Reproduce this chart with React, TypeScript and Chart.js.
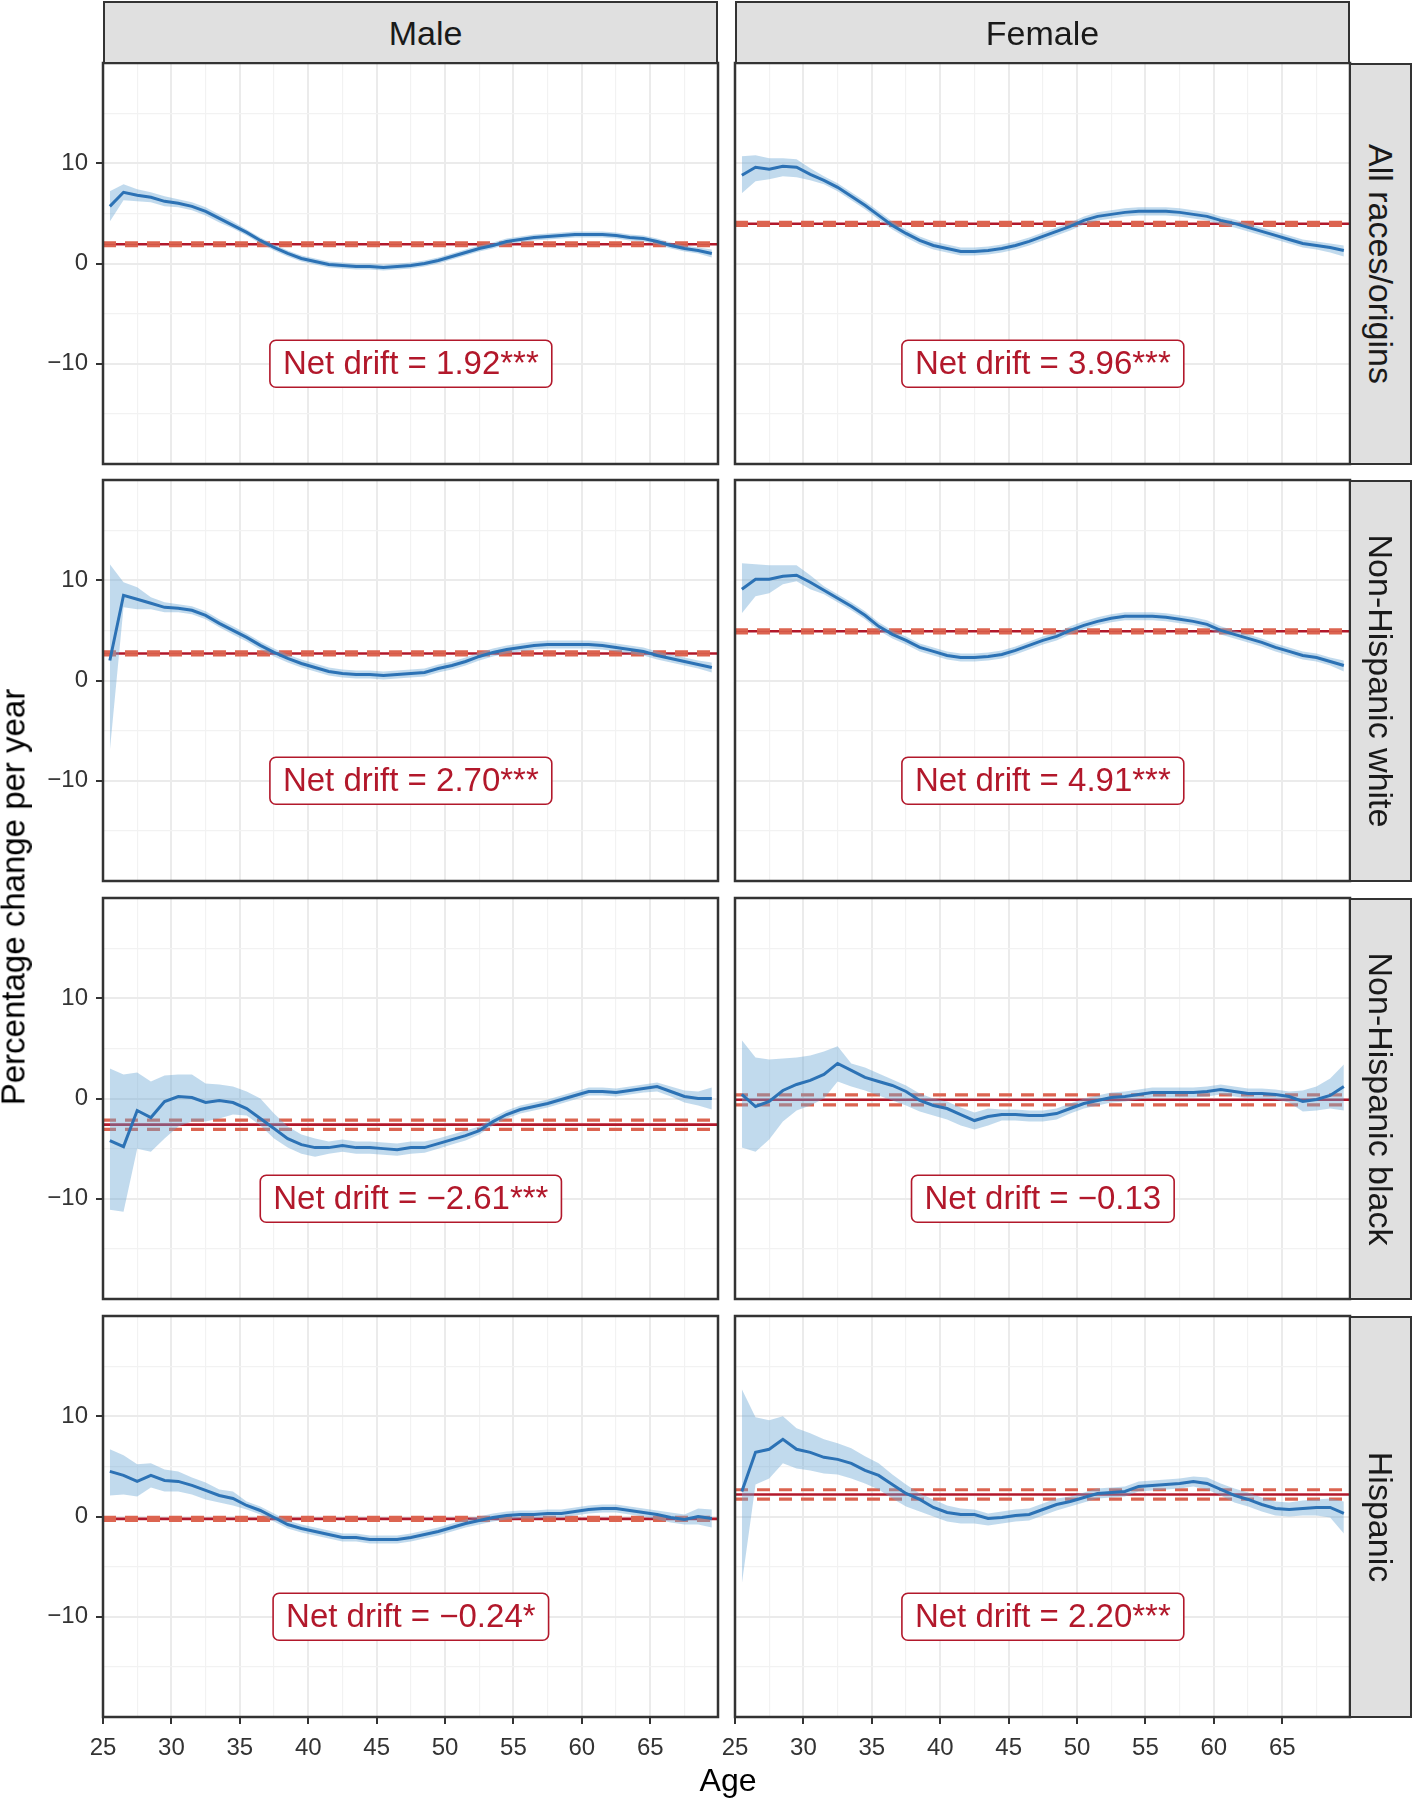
import React, { useEffect, useRef } from 'react';
import { Chart, registerables } from 'chart.js';

Chart.register(...registerables);

// ---------------- data ----------------
const AGES = [25.5, 26.5, 27.5, 28.5, 29.5, 30.5, 31.5, 32.5, 33.5, 34.5, 35.5, 36.5, 37.5, 38.5, 39.5, 40.5, 41.5, 42.5, 43.5, 44.5, 45.5, 46.5, 47.5, 48.5, 49.5, 50.5, 51.5, 52.5, 53.5, 54.5, 55.5, 56.5, 57.5, 58.5, 59.5, 60.5, 61.5, 62.5, 63.5, 64.5, 65.5, 66.5, 67.5, 68.5, 69.5];

const SEXES = ['Male', 'Female'];
const GROUPS = ['All races/origins', 'Non-Hispanic white', 'Non-Hispanic black', 'Hispanic'];

const MALE_ALL = [5.7, 7.1, 6.8, 6.6, 6.2, 6.0, 5.7, 5.2, 4.5, 3.8, 3.1, 2.3, 1.6, 1.0, 0.5, 0.2, -0.1, -0.2, -0.3, -0.3, -0.4, -0.3, -0.2, 0.0, 0.3, 0.7, 1.1, 1.5, 1.8, 2.2, 2.4, 2.6, 2.7, 2.8, 2.9, 2.9, 2.9, 2.8, 2.6, 2.5, 2.2, 1.8, 1.5, 1.3, 1.0];
const MALE_ALL_LO = [4.2, 6.3, 6.2, 6.1, 5.7, 5.6, 5.3, 4.8, 4.1, 3.5, 2.8, 2.0, 1.3, 0.7, 0.2, -0.1, -0.4, -0.5, -0.6, -0.6, -0.7, -0.6, -0.5, -0.3, 0.0, 0.4, 0.8, 1.2, 1.5, 1.9, 2.1, 2.3, 2.4, 2.5, 2.6, 2.6, 2.6, 2.5, 2.3, 2.2, 1.9, 1.5, 1.2, 1.0, 0.6];
const MALE_ALL_HI = [7.2, 7.9, 7.4, 7.1, 6.7, 6.4, 6.1, 5.6, 4.9, 4.2, 3.4, 2.6, 1.9, 1.3, 0.8, 0.5, 0.2, 0.1, 0.0, 0.0, -0.1, 0.0, 0.1, 0.3, 0.6, 1.0, 1.4, 1.8, 2.1, 2.5, 2.7, 2.9, 3.0, 3.1, 3.2, 3.2, 3.2, 3.1, 2.9, 2.8, 2.5, 2.1, 1.8, 1.6, 1.4];

const FEMALE_ALL = [8.8, 9.6, 9.4, 9.7, 9.6, 8.9, 8.3, 7.6, 6.7, 5.8, 4.8, 3.8, 3.0, 2.3, 1.8, 1.5, 1.2, 1.2, 1.3, 1.5, 1.8, 2.2, 2.7, 3.2, 3.7, 4.3, 4.7, 4.9, 5.1, 5.2, 5.2, 5.2, 5.1, 4.9, 4.7, 4.3, 4.0, 3.6, 3.2, 2.8, 2.4, 2.0, 1.8, 1.6, 1.3];
const FEMALE_ALL_LO = [7.0, 8.2, 8.4, 8.7, 8.6, 8.3, 7.9, 7.2, 6.3, 5.4, 4.4, 3.4, 2.6, 1.9, 1.4, 1.1, 0.8, 0.8, 0.9, 1.1, 1.4, 1.8, 2.3, 2.8, 3.3, 3.9, 4.3, 4.5, 4.7, 4.8, 4.8, 4.8, 4.7, 4.5, 4.3, 3.9, 3.6, 3.2, 2.8, 2.4, 2.0, 1.6, 1.4, 1.1, 0.7];
const FEMALE_ALL_HI = [10.7, 10.8, 10.5, 10.5, 10.4, 9.5, 8.7, 8.0, 7.1, 6.2, 5.2, 4.2, 3.4, 2.7, 2.2, 1.9, 1.6, 1.6, 1.7, 1.9, 2.2, 2.6, 3.1, 3.6, 4.1, 4.7, 5.1, 5.3, 5.5, 5.6, 5.6, 5.6, 5.5, 5.3, 5.1, 4.7, 4.4, 4.0, 3.6, 3.2, 2.8, 2.4, 2.2, 2.0, 1.8];

const MALE_WHITE = [2.0, 8.5, 8.1, 7.7, 7.3, 7.2, 7.0, 6.5, 5.7, 5.0, 4.3, 3.5, 2.8, 2.2, 1.7, 1.3, 0.9, 0.7, 0.6, 0.6, 0.5, 0.6, 0.7, 0.8, 1.2, 1.5, 1.9, 2.4, 2.8, 3.1, 3.3, 3.5, 3.6, 3.6, 3.6, 3.6, 3.5, 3.3, 3.1, 2.9, 2.5, 2.2, 1.9, 1.6, 1.3];
const MALE_WHITE_LO = [-7.0, 7.3, 7.1, 7.1, 6.8, 6.8, 6.6, 6.1, 5.3, 4.6, 3.9, 3.1, 2.4, 1.8, 1.3, 0.9, 0.5, 0.3, 0.2, 0.2, 0.1, 0.2, 0.3, 0.4, 0.8, 1.1, 1.5, 2.0, 2.4, 2.7, 2.9, 3.1, 3.2, 3.2, 3.2, 3.2, 3.1, 2.9, 2.7, 2.5, 2.1, 1.8, 1.5, 1.2, 0.8];
const MALE_WHITE_HI = [11.6, 9.8, 9.3, 8.3, 7.8, 7.6, 7.4, 6.9, 6.1, 5.4, 4.7, 3.9, 3.2, 2.6, 2.1, 1.7, 1.3, 1.1, 1.0, 1.0, 0.9, 1.0, 1.1, 1.2, 1.6, 1.9, 2.3, 2.8, 3.2, 3.5, 3.7, 3.9, 4.0, 4.0, 4.0, 4.0, 3.9, 3.7, 3.5, 3.3, 2.9, 2.6, 2.3, 2.0, 1.8];

const FEMALE_WHITE = [9.1, 10.1, 10.1, 10.4, 10.5, 9.8, 9.0, 8.2, 7.4, 6.5, 5.4, 4.6, 4.0, 3.3, 2.9, 2.5, 2.3, 2.3, 2.4, 2.6, 3.0, 3.5, 4.0, 4.4, 5.0, 5.5, 5.9, 6.2, 6.4, 6.4, 6.4, 6.3, 6.1, 5.9, 5.6, 5.0, 4.6, 4.2, 3.8, 3.3, 2.9, 2.5, 2.3, 1.9, 1.5];
const FEMALE_WHITE_LO = [6.7, 8.4, 8.7, 9.6, 9.9, 9.1, 8.6, 7.8, 7.0, 6.1, 5.0, 4.2, 3.6, 2.9, 2.5, 2.1, 1.9, 1.9, 2.0, 2.2, 2.6, 3.1, 3.6, 4.0, 4.6, 5.1, 5.5, 5.8, 6.0, 6.0, 6.0, 5.9, 5.7, 5.5, 5.2, 4.6, 4.2, 3.8, 3.4, 2.9, 2.5, 2.1, 1.9, 1.5, 0.9];
const FEMALE_WHITE_HI = [11.7, 11.6, 11.5, 11.5, 11.5, 10.5, 9.4, 8.6, 7.8, 6.9, 5.8, 5.0, 4.4, 3.7, 3.3, 2.9, 2.7, 2.7, 2.8, 3.0, 3.4, 3.9, 4.4, 4.8, 5.4, 5.9, 6.3, 6.6, 6.8, 6.8, 6.8, 6.7, 6.5, 6.3, 6.0, 5.4, 5.0, 4.6, 4.2, 3.7, 3.3, 2.9, 2.7, 2.3, 2.0];

const MALE_BLACK = [-4.2, -4.8, -1.2, -1.9, -0.3, 0.2, 0.1, -0.4, -0.2, -0.4, -1.0, -2.0, -3.0, -4.0, -4.6, -4.9, -4.9, -4.7, -4.9, -4.9, -5.0, -5.1, -4.9, -4.9, -4.5, -4.1, -3.7, -3.2, -2.3, -1.6, -1.1, -0.8, -0.5, -0.1, 0.3, 0.7, 0.7, 0.6, 0.8, 1.0, 1.2, 0.7, 0.2, 0.0, 0.0];
const MALE_BLACK_LO = [-11.1, -11.3, -5.0, -5.3, -4.0, -2.8, -2.3, -2.3, -2.0, -1.6, -1.7, -2.7, -4.0, -4.9, -5.5, -5.8, -5.5, -5.3, -5.5, -5.5, -5.6, -5.7, -5.5, -5.4, -5.0, -4.6, -4.2, -3.6, -2.7, -2.0, -1.5, -1.2, -0.9, -0.5, -0.1, 0.3, 0.3, 0.2, 0.4, 0.6, 0.7, 0.2, -0.4, -0.7, -1.1];
const MALE_BLACK_HI = [3.0, 2.4, 2.6, 1.7, 2.3, 2.4, 2.4, 1.5, 1.4, 1.2, 0.7, 0.0, -1.5, -2.8, -3.6, -4.0, -4.3, -4.1, -4.3, -4.3, -4.4, -4.5, -4.3, -4.3, -4.0, -3.6, -3.2, -2.8, -1.9, -1.2, -0.7, -0.4, -0.1, 0.3, 0.7, 1.1, 1.1, 1.0, 1.2, 1.4, 1.6, 1.2, 0.8, 0.7, 1.1];

const FEMALE_BLACK = [0.4, -0.8, -0.3, 0.8, 1.4, 1.8, 2.4, 3.5, 2.8, 2.1, 1.7, 1.3, 0.7, -0.2, -0.7, -1.0, -1.6, -2.2, -1.8, -1.6, -1.6, -1.7, -1.7, -1.5, -1.0, -0.5, -0.2, 0.1, 0.2, 0.4, 0.6, 0.6, 0.6, 0.6, 0.7, 0.9, 0.7, 0.5, 0.5, 0.4, 0.2, -0.3, -0.1, 0.3, 1.2];
const FEMALE_BLACK_LO = [-4.9, -5.3, -4.1, -2.3, -1.2, -0.7, 0.0, 1.7, 1.2, 0.8, 0.3, -0.2, -0.7, -1.3, -1.7, -2.1, -2.7, -3.1, -2.7, -2.2, -2.2, -2.3, -2.3, -2.1, -1.5, -1.0, -0.7, -0.4, -0.3, -0.1, 0.1, 0.1, 0.1, 0.1, 0.2, 0.4, 0.2, 0.0, 0.0, -0.1, -0.4, -1.3, -1.2, -1.0, -1.2];
const FEMALE_BLACK_HI = [5.8, 4.1, 3.9, 4.0, 4.1, 4.3, 4.7, 5.2, 3.5, 3.1, 2.5, 1.9, 1.3, 0.5, 0.0, -0.3, -0.9, -1.4, -1.0, -1.1, -1.1, -1.2, -1.2, -1.0, -0.5, 0.0, 0.3, 0.6, 0.7, 0.9, 1.1, 1.1, 1.1, 1.1, 1.2, 1.4, 1.2, 1.0, 1.0, 0.9, 0.7, 0.8, 1.2, 2.0, 3.4];

const MALE_HISP = [4.5, 4.1, 3.5, 4.1, 3.6, 3.5, 3.1, 2.6, 2.1, 1.8, 1.1, 0.6, -0.1, -0.8, -1.2, -1.5, -1.8, -2.1, -2.1, -2.3, -2.3, -2.3, -2.1, -1.8, -1.5, -1.1, -0.7, -0.4, -0.1, 0.1, 0.2, 0.2, 0.3, 0.3, 0.5, 0.7, 0.8, 0.8, 0.6, 0.4, 0.2, -0.1, -0.3, 0.0, -0.2];
const MALE_HISP_LO = [2.1, 2.2, 2.0, 2.9, 2.5, 2.5, 2.2, 1.7, 1.4, 1.1, 0.7, 0.2, -0.5, -1.2, -1.6, -1.9, -2.2, -2.5, -2.5, -2.7, -2.7, -2.7, -2.5, -2.2, -1.9, -1.5, -1.1, -0.8, -0.5, -0.3, -0.2, -0.2, -0.1, -0.1, 0.1, 0.3, 0.4, 0.4, 0.2, 0.0, -0.3, -0.6, -0.8, -0.8, -1.1];
const MALE_HISP_HI = [6.7, 6.1, 5.2, 5.3, 4.7, 4.5, 3.9, 3.4, 2.7, 2.5, 1.5, 1.0, 0.3, -0.4, -0.8, -1.1, -1.4, -1.7, -1.7, -1.9, -1.9, -1.9, -1.7, -1.4, -1.1, -0.7, -0.3, 0.0, 0.3, 0.5, 0.6, 0.6, 0.7, 0.7, 0.9, 1.1, 1.2, 1.2, 1.0, 0.8, 0.6, 0.4, 0.2, 0.8, 0.7];

const FEMALE_HISP = [2.5, 6.4, 6.7, 7.7, 6.7, 6.4, 5.9, 5.7, 5.3, 4.6, 4.1, 3.2, 2.3, 1.7, 0.9, 0.4, 0.2, 0.2, -0.2, -0.1, 0.1, 0.2, 0.7, 1.2, 1.5, 1.9, 2.3, 2.4, 2.5, 3.0, 3.1, 3.2, 3.3, 3.5, 3.3, 2.7, 2.1, 1.7, 1.2, 0.8, 0.7, 0.8, 0.9, 0.9, 0.3];
const FEMALE_HISP_LO = [-6.7, 3.2, 3.8, 5.3, 4.8, 4.6, 4.3, 4.2, 3.8, 3.3, 2.7, 1.8, 1.0, 0.5, 0.0, -0.5, -0.7, -0.7, -0.9, -0.7, -0.5, -0.4, 0.1, 0.6, 1.0, 1.4, 1.8, 1.9, 2.0, 2.5, 2.6, 2.7, 2.8, 3.0, 2.7, 2.1, 1.4, 1.0, 0.5, 0.1, 0.0, 0.1, 0.1, -0.1, -1.7];
const FEMALE_HISP_HI = [12.7, 9.9, 9.6, 10.0, 8.8, 8.3, 7.7, 7.3, 6.8, 6.0, 5.3, 4.2, 3.2, 2.3, 1.7, 1.1, 0.8, 0.7, 0.3, 0.5, 0.7, 0.8, 1.3, 1.8, 2.0, 2.4, 2.8, 2.9, 3.0, 3.5, 3.6, 3.7, 3.8, 4.0, 3.9, 3.3, 2.8, 2.4, 1.9, 1.5, 1.4, 1.6, 1.7, 1.8, 1.5];

// net drift per panel (row-major: Male, Female for each group)
const NET_DRIFT = [1.92, 3.96, 2.70, 4.91, -2.61, -0.13, -0.24, 2.20];
const NET_DRIFT_LO = [1.77, 3.81, 2.55, 4.76, -3.07, -0.63, -0.39, 1.73];
const NET_DRIFT_HI = [2.07, 4.11, 2.85, 5.06, -2.15, 0.37, -0.09, 2.67];
const SIGNIF = ['***', '***', '***', '***', '***', '', '*', '***'];

const X_MIN = 25;
const X_MAX = 69.95;
const Y_MIN = -20;
const Y_MAX = 20;
const X_GRID = [25, 27.5, 30, 32.5, 35, 37.5, 40, 42.5, 45, 47.5, 50, 52.5, 55, 57.5, 60, 62.5, 65, 67.5];
const X_LABELS = [25, 30, 35, 40, 45, 50, 55, 60, 65];
const Y_GRID = [-15, -10, -5, 0, 5, 10, 15];
const Y_LABELS = [-10, 0, 10];
const LABEL_AT = { x: 47.5, y: -10 };

const PANEL_SERIES = [
  { est: MALE_ALL, lo: MALE_ALL_LO, hi: MALE_ALL_HI },
  { est: FEMALE_ALL, lo: FEMALE_ALL_LO, hi: FEMALE_ALL_HI },
  { est: MALE_WHITE, lo: MALE_WHITE_LO, hi: MALE_WHITE_HI },
  { est: FEMALE_WHITE, lo: FEMALE_WHITE_LO, hi: FEMALE_WHITE_HI },
  { est: MALE_BLACK, lo: MALE_BLACK_LO, hi: MALE_BLACK_HI },
  { est: FEMALE_BLACK, lo: FEMALE_BLACK_LO, hi: FEMALE_BLACK_HI },
  { est: MALE_HISP, lo: MALE_HISP_LO, hi: MALE_HISP_HI },
  { est: FEMALE_HISP, lo: FEMALE_HISP_LO, hi: FEMALE_HISP_HI },
];

// ---------------- layout & style ----------------
const FONT = "'Liberation Sans', Arial, Helvetica, sans-serif";
const COL_X = [103, 735];
const ROW_Y = [63, 480, 898, 1316];
const PANEL_W = 615;
const PANEL_H = 401;
const PAD = 4;
const STRIP_TEXT_SHIFT = [15, 0];

const BLUE = '#2C72B5';
const RIBBON = 'rgba(107,166,212,0.42)';
const RED = '#B2182B';
const DASH = '#DC6450';
const MAJOR_GRID = '#EBEBEB';
const MINOR_GRID = '#F2F2F2';
const BORDER = '#333333';
const TICK_TEXT = '#333333';
const STRIP_BG = '#E0E0E0';

const fmt = (v: number) => (v < 0 ? '\u2212' + Math.abs(v) : String(v));
const fmtDrift = (v: number) => (v < 0 ? '\u2212' + Math.abs(v).toFixed(2) : v.toFixed(2));

const isMajorX = (v: number) => X_LABELS.includes(v);
const isMajorY = (v: number) => Y_LABELS.includes(v);

const panelDecor = {
  id: 'panelDecor',
  afterDatasetsDraw(chart: any, _args: any, opts: any) {
    const { ctx, scales } = chart;
    const cx = scales.x.getPixelForValue(LABEL_AT.x);
    const cy = scales.y.getPixelForValue(LABEL_AT.y);
    ctx.save();
    ctx.font = `33px ${FONT}`;
    const tw = ctx.measureText(opts.text).width;
    const w = tw + 26;
    const h = 47;
    const x = cx - w / 2;
    const y = cy - h / 2;
    ctx.beginPath();
    ctx.roundRect(x, y, w, h, 6);
    ctx.fillStyle = '#ffffff';
    ctx.fill();
    ctx.lineWidth = 1.6;
    ctx.strokeStyle = RED;
    ctx.stroke();
    ctx.fillStyle = RED;
    ctx.textAlign = 'center';
    ctx.textBaseline = 'middle';
    ctx.fillText(opts.text, cx, cy + 1);
    ctx.restore();
  },
  afterDraw(chart: any) {
    const { ctx, chartArea } = chart;
    ctx.save();
    ctx.lineWidth = 2.5;
    ctx.strokeStyle = BORDER;
    ctx.strokeRect(chartArea.left, chartArea.top, chartArea.right - chartArea.left, chartArea.bottom - chartArea.top);
    ctx.restore();
  },
};

function Panel({ idx }: { idx: number }) {
  const ref = useRef<HTMLCanvasElement>(null);
  const r = Math.floor(idx / 2);
  const c = idx % 2;
  const showY = c === 0;
  const showX = r === 3;
  const ML = c === 0 ? 100 : 20;
  const MB = showX ? 60 : 0;
  const left = COL_X[c] - ML - PAD;
  const top = ROW_Y[r] - PAD;
  const w = PANEL_W + ML + PAD * 2;
  const h = PANEL_H + MB + PAD * 2;

  useEffect(() => {
    const s = PANEL_SERIES[idx];
    const pts = (arr: number[]) => AGES.map((a, i) => ({ x: a, y: arr[i] }));
    const hline = (v: number) => [{ x: X_MIN, y: v }, { x: X_MAX, y: v }];
    const label = `Net drift = ${fmtDrift(NET_DRIFT[idx])}${SIGNIF[idx]}`;
    const chart = new Chart(ref.current as HTMLCanvasElement, {
      type: 'line',
      data: {
        datasets: [
          { label: 'APC', data: pts(s.est), borderColor: BLUE, borderWidth: 3, pointRadius: 0, fill: false, tension: 0, order: 0 },
          { label: 'CI upper', data: pts(s.hi), borderColor: 'rgba(0,0,0,0)', borderWidth: 1, pointRadius: 0, backgroundColor: RIBBON, fill: 2, tension: 0, order: 1 },
          { label: 'CI lower', data: pts(s.lo), borderColor: 'rgba(0,0,0,0)', borderWidth: 1, pointRadius: 0, fill: false, tension: 0, order: 2 },
          { label: 'drift hi', data: hline(NET_DRIFT_HI[idx]), borderColor: DASH, borderWidth: 3.2, borderDash: [13, 9], pointRadius: 0, fill: false, order: 3 },
          { label: 'drift lo', data: hline(NET_DRIFT_LO[idx]), borderColor: DASH, borderWidth: 3.2, borderDash: [13, 9], pointRadius: 0, fill: false, order: 4 },
          { label: 'drift', data: hline(NET_DRIFT[idx]), borderColor: RED, borderWidth: 2.6, pointRadius: 0, fill: false, order: 5 },
        ],
      } as any,
      options: {
        responsive: false,
        devicePixelRatio: 1,
        animation: false,
        events: [],
        layout: { padding: PAD },
        plugins: {
          legend: { display: false },
          tooltip: { enabled: false },
          panelDecor: { text: label },
        } as any,
        scales: {
          x: {
            type: 'linear',
            position: 'bottom',
            min: X_MIN,
            max: X_MAX,
            afterBuildTicks: (sc: any) => { sc.ticks = X_GRID.map((v) => ({ value: v })); },
            afterFit: (sc: any) => { sc.height = MB; sc.paddingLeft = 0; sc.paddingRight = 0; },
            border: { display: false },
            grid: {
              drawTicks: showX,
              tickLength: 7,
              color: (ctx: any) => (ctx.tick && isMajorX(ctx.tick.value) ? MAJOR_GRID : MINOR_GRID),
              lineWidth: (ctx: any) => (ctx.tick && isMajorX(ctx.tick.value) ? 2 : 1.2),
              tickColor: (ctx: any) => (ctx.tick && isMajorX(ctx.tick.value) ? BORDER : 'rgba(0,0,0,0)'),
              tickWidth: 2,
            } as any,
            ticks: {
              display: showX,
              autoSkip: false,
              maxRotation: 0,
              minRotation: 0,
              padding: 10,
              color: TICK_TEXT,
              font: { family: FONT, size: 24 },
              callback: (v: any) => (X_LABELS.includes(Number(v)) ? String(v) : ''),
            },
          },
          y: {
            type: 'linear',
            position: 'left',
            min: Y_MIN,
            max: Y_MAX,
            afterBuildTicks: (sc: any) => { sc.ticks = Y_GRID.map((v) => ({ value: v })); },
            afterFit: (sc: any) => { sc.width = ML; sc.paddingTop = 0; sc.paddingBottom = 0; },
            border: { display: false },
            grid: {
              drawTicks: showY,
              tickLength: 7,
              color: (ctx: any) => (ctx.tick && isMajorY(ctx.tick.value) ? MAJOR_GRID : MINOR_GRID),
              lineWidth: (ctx: any) => (ctx.tick && isMajorY(ctx.tick.value) ? 2 : 1.2),
              tickColor: (ctx: any) => (ctx.tick && isMajorY(ctx.tick.value) ? BORDER : 'rgba(0,0,0,0)'),
              tickWidth: 2,
            } as any,
            ticks: {
              display: showY,
              padding: 8,
              color: TICK_TEXT,
              font: { family: FONT, size: 24 },
              callback: (v: any) => (Y_LABELS.includes(Number(v)) ? fmt(Number(v)) : ''),
            },
          },
        },
      } as any,
      plugins: [panelDecor],
    });
    return () => chart.destroy();
  }, [idx]);

  return (
    <canvas
      ref={ref}
      width={w}
      height={h}
      style={{ position: 'absolute', left, top, width: w, height: h }}
    />
  );
}

export default function App() {
  const stripText: React.CSSProperties = { fontSize: 34, color: '#1A1A1A', whiteSpace: 'nowrap', lineHeight: '34px' };
  return (
    <div style={{ position: 'absolute', left: 0, top: 0, width: 1414, height: 1800, background: '#ffffff', fontFamily: FONT, overflow: 'hidden' }}>
      {[0, 1, 2, 3, 4, 5, 6, 7].map((i) => <Panel key={i} idx={i} />)}

      {SEXES.map((s, c) => (
        <div key={s} style={{ position: 'absolute', left: COL_X[c], top: 1, width: PANEL_W, height: 63, boxSizing: 'border-box', border: `2px solid ${BORDER}`, background: STRIP_BG }}>
          <span style={{ ...stripText, position: 'absolute', left: `calc(50% + ${STRIP_TEXT_SHIFT[c]}px)`, top: '50%', transform: 'translate(-50%, -50%)' }}>{s}</span>
        </div>
      ))}

      {GROUPS.map((g, r) => (
        <div key={g} style={{ position: 'absolute', left: 1349, top: ROW_Y[r], width: 63, height: PANEL_H + 1, boxSizing: 'border-box', border: `2px solid ${BORDER}`, background: STRIP_BG }}>
          <span style={{ ...stripText, position: 'absolute', left: '50%', top: '50%', transform: 'translate(-50%, -50%) rotate(90deg)' }}>{g}</span>
        </div>
      ))}

      <span style={{ position: 'absolute', left: 728, top: 1780, fontSize: 32, lineHeight: '32px', color: '#000', whiteSpace: 'nowrap', transform: 'translate(-50%, -50%)' }}>Age</span>

      <span style={{ position: 'absolute', left: 13, top: 897, fontSize: 33, lineHeight: '33px', color: '#000', whiteSpace: 'nowrap', transform: 'translate(-50%, -50%) rotate(-90deg)' }}>
        Percentage change per year
      </span>
    </div>
  );
}
